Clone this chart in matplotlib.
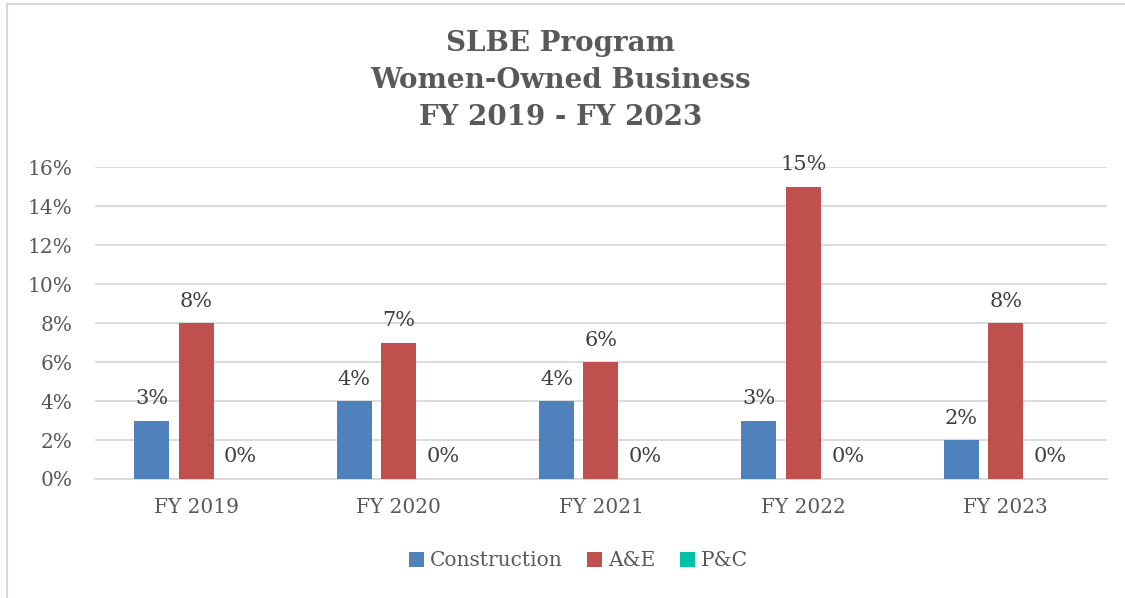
import matplotlib.pyplot as plt
import numpy as np
from matplotlib.patches import Rectangle
from matplotlib.ticker import PercentFormatter

# Data
years = ['FY 2019', 'FY 2020', 'FY 2021', 'FY 2022', 'FY 2023']
construction = [3, 4, 4, 3, 2]
a_and_e = [8, 7, 6, 15, 8]
p_and_c = [0, 0, 0, 0, 0]

series_names = ['Construction', 'A&E', 'P&C']
colors = ['#4f81bd', '#c0504d', '#00c0a8']

plt.rcParams['font.family'] = ['DejaVu Serif']

fig = plt.figure(figsize=(11.25, 5.98), dpi=100)
ax = fig.add_axes([0.0844, 0.199, 0.8996, 0.5217])

x = np.arange(len(years))
width = 0.173
step = 0.22

for i, (vals, name, col) in enumerate(zip([construction, a_and_e, p_and_c], series_names, colors)):
    pos = x + (i - 1) * step
    ax.bar(pos, vals, width, color=col, label=name, zorder=3)
    for xb, v in zip(pos, vals):
        ax.annotate(f'{v}%', (xb, v), xytext=(0, 9), textcoords='offset points',
                    ha='center', va='bottom', fontsize=15, color='#404040')

ax.set_ylim(0, 16)
ax.set_xlim(-0.5, 4.5)
ax.set_yticks(range(0, 17, 2))
ax.yaxis.set_major_formatter(PercentFormatter(decimals=0))
ax.set_xticks(x)
ax.set_xticklabels(years)
ax.tick_params(axis='both', length=0, labelsize=14.5, labelcolor='#595959')
ax.tick_params(axis='y', pad=16)
ax.tick_params(axis='x', pad=14)
ax.grid(axis='y', color='#d9d9d9', linewidth=1.3, zorder=0)
for s in ['top', 'right', 'left']:
    ax.spines[s].set_visible(False)
ax.spines['bottom'].set_color('#d9d9d9')
ax.spines['bottom'].set_linewidth(1.3)

fig.text(0.498, 0.865, 'SLBE Program\nWomen-Owned Business\nFY 2019 - FY 2023',
         ha='center', va='center', fontsize=20, fontweight='bold', color='#595959',
         linespacing=1.48)

fig.legend(loc='center', bbox_to_anchor=(0.514, 0.062), ncol=3, frameon=False,
           fontsize=14.5, handlelength=0.75, handleheight=0.75, handletextpad=0.3,
           columnspacing=1.2, labelcolor='#595959')

# outer chart border (right and bottom fall off the image)
fig.patches.append(Rectangle((7 / 1125, -0.1), 1.2, 1 - 4 / 598 + 0.1,
                             transform=fig.transFigure, fill=False,
                             edgecolor='#d9d9d9', linewidth=1.5))

fig.savefig('out.png', dpi=100)
